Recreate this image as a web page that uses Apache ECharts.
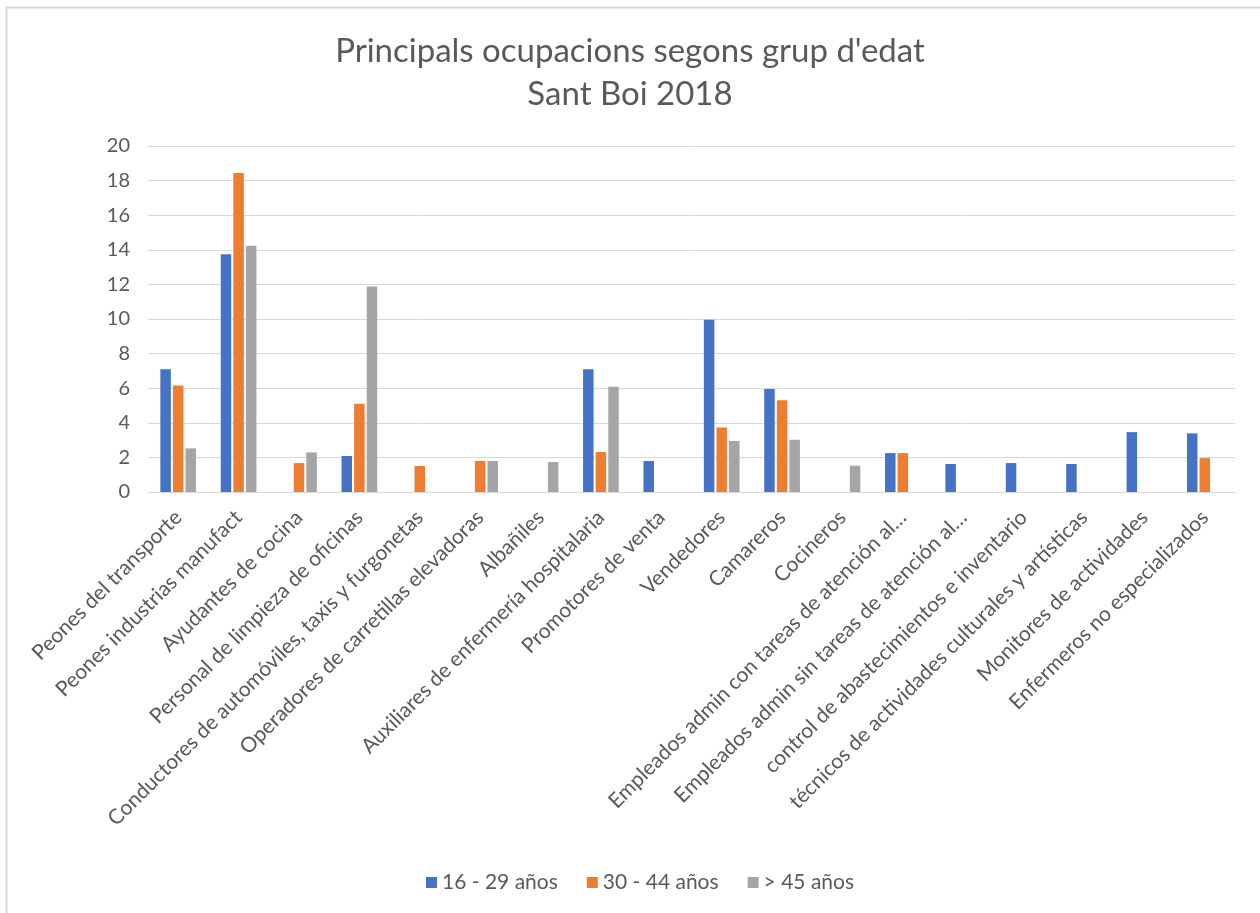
<!DOCTYPE html>
<html><head><meta charset="utf-8">
<script src="https://cdn.jsdelivr.net/npm/echarts@6/dist/echarts.min.js"></script>
<style>html,body{margin:0;padding:0;background:#fff}#c{width:1260px;height:913px}</style>
</head><body><div id="c"></div>
<script>
const categories = [
  "Peones del transporte",
  "Peones industrias manufact",
  "Ayudantes de cocina",
  "Personal de limpieza de oficinas",
  "Conductores de automóviles, taxis y furgonetas",
  "Operadores de carretillas elevadoras",
  "Albañiles",
  "Auxiliares de enfermería hospitalaria",
  "Promotores de venta",
  "Vendedores",
  "Camareros",
  "Cocineros",
  "Empleados admin con tareas de atención al…",
  "Empleados admin sin tareas de atención al…",
  "control de abastecimientos e inventario",
  "técnicos de actividades culturales y artísticas",
  "Monitores de actividades",
  "Enfermeros no especializados"
];
const seriesNames = ["16 - 29 años", "30 - 44 años", "> 45 años"];
const age16_29 = [7.1, 13.74, null, 2.08, null, null, null, 7.1, 1.79, 9.95, 5.95, null, 2.25, 1.62, 1.67, 1.62, 3.46, 3.39];
const age30_44 = [6.16, 18.44, 1.67, 5.1, 1.5, 1.79, null, 2.31, null, 3.73, 5.31, null, 2.25, null, null, null, null, 1.96];
const age45 = [2.52, 14.23, 2.29, 11.88, null, 1.79, 1.73, 6.08, null, 2.95, 3.02, 1.52, null, null, null, null, null, null];
const yTicks = {min: 0, max: 20, interval: 2};
const titleText = "Principals ocupacions segons grup d'edat\nSant Boi 2018";

const colors = ["#4472C4", "#ED7D31", "#A5A5A5"];
const font = "Lato";
const chart = echarts.init(document.getElementById('c'), null, {renderer: 'canvas'});
const data = [age16_29, age30_44, age45];
chart.setOption({
  animation: false,
  textStyle: {fontFamily: font},
  graphic: [{type: 'rect', shape: {x: 6.5, y: 7.5, width: 1300, height: 1000}, style: {fill: 'none', stroke: '#D9D9D9', lineWidth: 2}}],
  title: {text: titleText, left: 'center', top: 25, textStyle: {fontFamily: font, fontSize: 33, fontWeight: 'normal', color: '#595959', lineHeight: 43}},
  legend: {bottom: 15, left: 421, itemWidth: 11, itemHeight: 11, itemGap: 29, icon: 'rect',
    textStyle: {fontFamily: font, fontSize: 21, color: '#595959'}, data: seriesNames},
  grid: {left: 148, right: 25, top: 146, bottom: 421, containLabel: false},
  xAxis: {type: 'category', data: categories,
    axisLine: {lineStyle: {color: '#D9D9D9'}}, axisTick: {show: false},
    axisLabel: {rotate: 45, interval: 0, fontSize: 21, color: '#595959', margin: 22, fontFamily: font}},
  yAxis: {type: 'value', min: yTicks.min, max: yTicks.max, interval: yTicks.interval,
    axisLine: {show: false}, axisTick: {show: false},
    splitLine: {lineStyle: {color: '#D9D9D9'}},
    axisLabel: {fontSize: 20, color: '#595959', margin: 18, fontFamily: font}},
  series: seriesNames.map((n, i) => ({name: n, type: 'bar', data: data[i], barWidth: 10.5, barGap: '20%', itemStyle: {color: colors[i]}}))
});
</script></body></html>
